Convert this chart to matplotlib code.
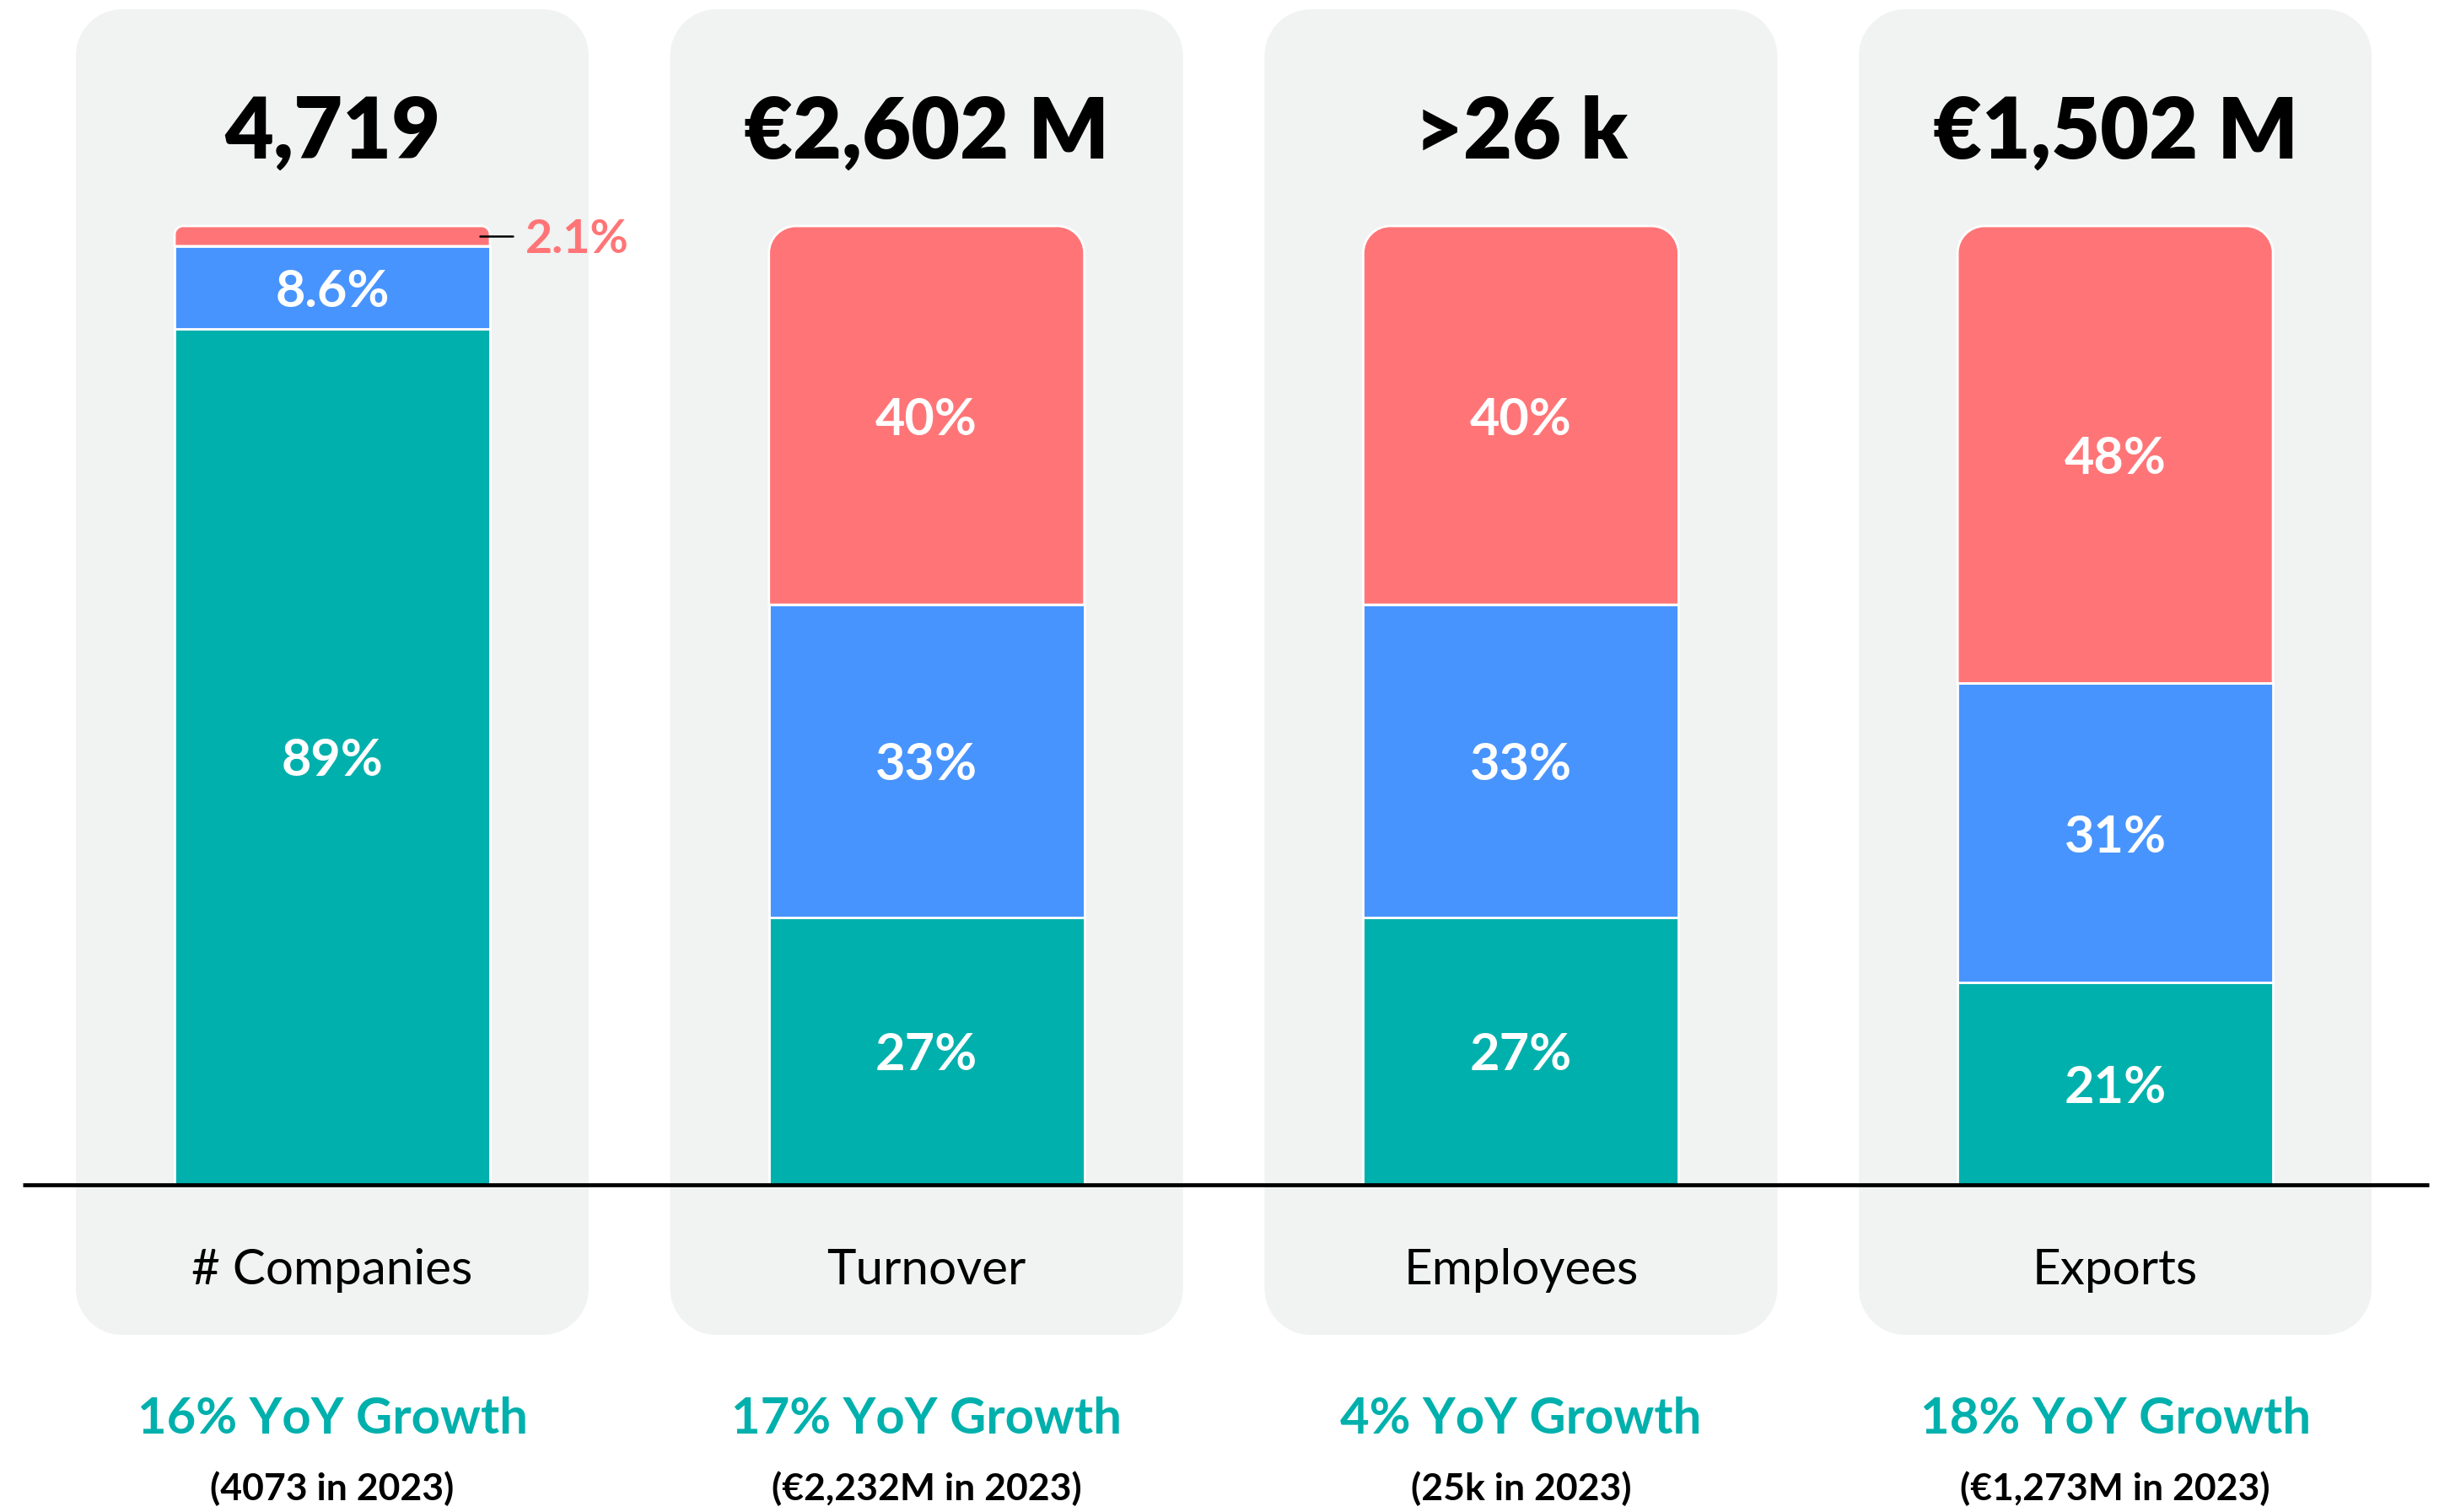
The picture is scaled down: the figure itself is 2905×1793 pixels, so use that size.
import matplotlib
matplotlib.use("Agg")
import matplotlib.pyplot as plt
from matplotlib.path import Path
from matplotlib.patches import PathPatch
import numpy as np

# ---------------- data ----------------
categories = ["# Companies", "Turnover", "Employees", "Exports"]
headlines = ["4,719", "€2,602 M", ">26 k", "€1,502 M"]
# segment shares
teal_share = [89.3, 27.9, 27.9, 21.1]
blue_share = [8.6, 32.6, 32.6, 31.2]
red_share = [2.1, 39.5, 39.5, 47.7]
# segment labels as printed
teal_labels = ["89%", "27%", "27%", "21%"]
blue_labels = ["8.6%", "33%", "33%", "31%"]
red_labels = ["2.1%", "40%", "40%", "48%"]
growth_labels = ["16% YoY Growth", "17% YoY Growth", "4% YoY Growth", "18% YoY Growth"]
prev_labels = ["(4073 in 2023)", "(€2,232M in 2023)", "(25k in 2023)", "(€1,273M in 2023)"]

TEAL = "#00B0AC"
BLUE = "#4894FE"
RED = "#FF7577"
PANEL = "#F1F2F2"

# ---------------- layout (pixel based) ----------------
W, H = 2905, 1793
DPI = 100
X0 = 394.0      # pixel x of first category
DX = 704.7      # pixel per category
Y0 = 1405.0     # pixel y (from top) of baseline
DY = 11.37      # pixel per percent

def ypx(p):  # pixel-from-top -> data y
    return (Y0 - p) / DY

def xpx(p):
    return (p - X0) / DX

FONT = ["Lato", "DejaVu Sans"]

fig = plt.figure(figsize=(W / DPI, H / DPI), dpi=DPI)
ax = fig.add_axes([0, 0, 1, 1])
ax.set_xlim(xpx(0), xpx(W))
ax.set_ylim(ypx(H), ypx(0))
ax.axis("off")

K = 0.5523

def rounded_path(x0, y0, x1, y1, rx, ry, top_only=False):
    verts, codes = [], []
    def mv(p): verts.append(p); codes.append(Path.MOVETO)
    def ln(p): verts.append(p); codes.append(Path.LINETO)
    def cv(p1, p2, p3):
        verts.extend([p1, p2, p3]); codes.extend([Path.CURVE4] * 3)
    if top_only:
        mv((x0, y0))
        ln((x0, y1 - ry))
        cv((x0, y1 - ry + K * ry), (x0 + rx - K * rx, y1), (x0 + rx, y1))
        ln((x1 - rx, y1))
        cv((x1 - rx + K * rx, y1), (x1, y1 - ry + K * ry), (x1, y1 - ry))
        ln((x1, y0))
        ln((x0, y0))
    else:
        mv((x0 + rx, y0))
        ln((x1 - rx, y0))
        cv((x1 - rx + K * rx, y0), (x1, y0 + ry - K * ry), (x1, y0 + ry))
        ln((x1, y1 - ry))
        cv((x1, y1 - ry + K * ry), (x1 - rx + K * rx, y1), (x1 - rx, y1))
        ln((x0 + rx, y1))
        cv((x0 + rx - K * rx, y1), (x0, y1 - ry + K * ry), (x0, y1 - ry))
        ln((x0, y0 + ry))
        cv((x0, y0 + ry - K * ry), (x0 + rx - K * rx, y0), (x0 + rx, y0))
    codes.append(Path.CLOSEPOLY); verts.append(verts[0])
    return Path(verts, codes)

x = np.arange(len(categories))
panel_w = 608 / DX
panel_top = ypx(11)
panel_bot = ypx(1583)
panel_r = 55
for xi in x:
    p = rounded_path(xi - panel_w / 2, panel_bot, xi + panel_w / 2, panel_top,
                     panel_r / DX, panel_r / DY)
    ax.add_patch(PathPatch(p, facecolor=PANEL, edgecolor="none", zorder=0))

# normalise shares to a 100% stack
teal = np.array(teal_share, float)
blue = np.array(blue_share, float)
red = np.array(red_share, float)
tot = teal + blue + red
teal_h = teal / tot * 100
blue_h = blue / tot * 100
red_h = red / tot * 100

LW = 2.0
bar_w = 374 / DX
b1 = ax.bar(x, teal_h, width=bar_w, color=TEAL, edgecolor="white", linewidth=LW, zorder=2)
b2 = ax.bar(x, blue_h, bottom=teal_h, width=bar_w, color=BLUE, edgecolor="white", linewidth=LW, zorder=2)
b3 = ax.bar(x, red_h, bottom=teal_h + blue_h, width=bar_w, color=RED, edgecolor="white", linewidth=LW, zorder=2)

# replace top segments by rounded-top shapes
for rect in b3:
    rect.set_visible(False)
    x0, y0 = rect.get_x(), rect.get_y()
    w, h = rect.get_width(), rect.get_height()
    r = min(32, 0.42 * h * DY)
    p = rounded_path(x0, y0, x0 + w, y0 + h, r / DX, r / DY, top_only=True)
    ax.add_patch(PathPatch(p, facecolor=RED, edgecolor="white", linewidth=LW, zorder=2))

# segment labels
for i in x:
    for lab, bottom, hgt, col in [(teal_labels[i], 0, teal_h[i], TEAL),
                                  (blue_labels[i], teal_h[i], blue_h[i], BLUE),
                                  (red_labels[i], teal_h[i] + blue_h[i], red_h[i], RED)]:
        if hgt >= 5:
            ax.text(i, bottom + hgt / 2, lab, ha="center", va="center_baseline",
                    color="white", fontsize=44, fontweight="bold", family=FONT, zorder=4)
        else:
            yc = bottom + hgt / 2
            xr = i + bar_w / 2
            ax.plot([xr - 12 / DX, xr + 27 / DX], [yc, yc], color="black", lw=1.8,
                    solid_capstyle="round", zorder=4)
            ax.text(xr + 42 / DX, yc, lab, ha="left", va="center_baseline",
                    color=col, fontsize=40, fontweight="bold", family=FONT, zorder=4)

# baseline
ax.plot([xpx(27), xpx(2880)], [0, 0], color="black", lw=3.4, zorder=3, solid_capstyle="butt")

# texts
for i in x:
    ax.text(i, ypx(188), headlines[i], ha="center", va="baseline", color="black",
            fontsize=72, fontweight="heavy", family=FONT, zorder=4)
    ax.text(i, ypx(1523), categories[i], ha="center", va="baseline", color="black",
            fontsize=42, fontweight="normal", family=FONT, zorder=4)
    ax.text(i, ypx(1700), growth_labels[i], ha="center", va="baseline", color=TEAL,
            fontsize=43, fontweight="bold", family=FONT, zorder=4)
    ax.text(i, ypx(1779), prev_labels[i], ha="center", va="baseline", color="black",
            fontsize=32, fontweight="bold", family=FONT, zorder=4)

fig.savefig("out.png", dpi=DPI, facecolor="white")
